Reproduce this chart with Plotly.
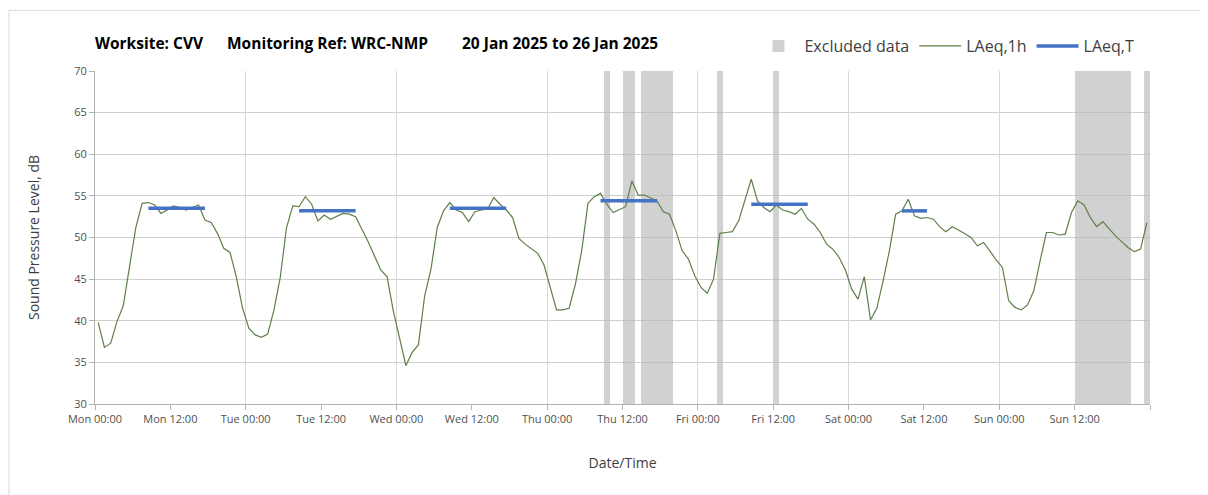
import plotly.graph_objects as go

# ---------------- data ----------------
day_names = ["Mon", "Tue", "Wed", "Thu", "Fri", "Sat", "Sun"]

# hourly LAeq,1h values (dB), one list per day, hours 00..23
laeq_mon = [39.8, 36.8, 37.3, 39.9, 41.8, 46.3, 51.2, 54.1, 54.2, 53.9, 52.9, 53.3,
            53.8, 53.6, 53.3, 53.6, 53.9, 52.1, 51.8, 50.5, 48.7, 48.2, 45.3, 41.5]
laeq_tue = [39.1, 38.3, 38.0, 38.4, 41.3, 45.2, 51.2, 53.8, 53.7, 54.9, 54.0, 52.0,
            52.7, 52.2, 52.6, 52.9, 52.8, 52.5, 51.0, 49.5, 47.8, 46.1, 45.3, 41.2]
laeq_wed = [37.9, 34.6, 36.2, 37.1, 43.0, 46.2, 51.2, 53.2, 54.2, 53.3, 53.0, 51.9,
            53.1, 53.3, 53.4, 54.8, 54.0, 53.3, 52.4, 49.9, 49.2, 48.7, 48.1, 46.7]
laeq_thu = [44.0, 41.3, 41.3, 41.5, 44.4, 48.4, 54.1, 54.9, 55.3, 54.0, 53.0, 53.4,
            53.7, 56.8, 55.1, 55.1, 54.7, 54.4, 53.1, 52.8, 50.8, 48.4, 47.4, 45.4]
laeq_fri = [44.0, 43.3, 45.0, 50.5, 50.6, 50.7, 52.0, 54.4, 57.0, 54.4, 53.6, 53.1,
            53.9, 53.3, 53.1, 52.8, 53.5, 52.2, 51.6, 50.6, 49.2, 48.6, 47.6, 46.1]
laeq_sat = [43.8, 42.6, 45.3, 40.1, 41.5, 44.8, 48.4, 52.8, 53.2, 54.6, 52.6, 52.3,
            52.4, 52.2, 51.3, 50.7, 51.3, 50.9, 50.5, 50.0, 49.0, 49.4, 48.4, 47.3]
laeq_sun = [46.4, 42.4, 41.6, 41.3, 41.9, 43.6, 47.2, 50.6, 50.6, 50.3, 50.4, 53.0,
            54.4, 53.9, 52.4, 51.3, 51.9, 51.0, 50.2, 49.5, 48.8, 48.3, 48.6, 51.8]

# LAeq,T over working periods: day index, first hour, last hour, value (dB)
period_day = [0, 1, 2, 3, 4, 5]
period_first_hour = [8, 8, 8, 8, 8, 8]
period_last_hour = [17, 17, 17, 17, 17, 12]
period_laeq = [53.5, 53.2, 53.5, 54.4, 54.0, 53.2]

# excluded data periods, hours since Mon 00:00
excl_start = [81, 84, 87, 99, 108, 156, 167]
excl_end = [82, 86, 92, 100, 109, 165, 168]

tick_hours = list(range(0, 169, 12))
tick_labels = [f"{day_names[h // 24]} {h % 24:02d}:00" if h < 168 else "" for h in tick_hours]

# ---------------- build ----------------
all_days = [laeq_mon, laeq_tue, laeq_wed, laeq_thu, laeq_fri, laeq_sat, laeq_sun]
hx, hy = [], []
for d, vals in enumerate(all_days):
    for h, v in enumerate(vals):
        hx.append(d * 24 + h + 0.5)
        hy.append(v)

tx, ty = [], []
for d, h0, h1, v in zip(period_day, period_first_hour, period_last_hour, period_laeq):
    tx += [d * 24 + h0 + 0.5, d * 24 + h1 + 0.5, None]
    ty += [v, v, None]

FONT = "Open Sans"
fig = go.Figure()

fig.add_trace(go.Bar(
    x=[(s + e) / 2 for s, e in zip(excl_start, excl_end)],
    y=[70 - 30] * len(excl_start),
    base=30,
    width=[e - s for s, e in zip(excl_start, excl_end)],
    marker=dict(color="rgba(185,185,185,0.65)", line=dict(width=0)),
    name="Excluded data",
    hoverinfo="skip",
))
fig.add_trace(go.Scatter(
    x=hx, y=hy, mode="lines", name="LAeq,1h",
    line=dict(color="#5e7f49", width=1.2),
    xaxis="x2",
))
fig.add_trace(go.Scatter(
    x=tx, y=ty, mode="lines", name="LAeq,T",
    line=dict(color="#4472C4", width=3.5),
    xaxis="x2",
))

axis_font = dict(family=FONT, size=11, color="#505050")
fig.update_layout(
    width=1200, height=487,
    margin=dict(l=87, r=58, t=63, b=91),
    paper_bgcolor="white", plot_bgcolor="white",
    font=dict(family=FONT, color="#404040"),
    showlegend=True,
    legend=dict(
        orientation="h", x=0.99, xanchor="right", y=1.075, yanchor="middle",
        font=dict(family=FONT, size=16, color="#404040"),
        itemwidth=42, traceorder="normal", bgcolor="rgba(0,0,0,0)",
    ),
    xaxis=dict(
        range=[0, 168], tickmode="array", tickvals=tick_hours, ticktext=tick_labels,
        showgrid=False, zeroline=False,
        showline=True, linecolor="#b3b3b3", linewidth=1,
        ticks="outside", ticklen=5, tickcolor="#b3b3b3",
        tickfont=axis_font,
        title=dict(text="Date/Time", font=dict(family=FONT, size=14, color="#404040"), standoff=32),
    ),
    xaxis2=dict(
        range=[0, 168], overlaying="x", matches="x", side="bottom",
        tickmode="linear", tick0=0, dtick=24,
        showgrid=True, gridcolor="#d9d9d9", gridwidth=1,
        showticklabels=False, ticks="", zeroline=False, showline=False,
    ),
    yaxis=dict(
        range=[30, 70], tickmode="linear", tick0=30, dtick=5,
        showgrid=True, gridcolor="#cfcfcf", gridwidth=1, zeroline=False,
        showline=True, linecolor="#b3b3b3", linewidth=1,
        ticks="outside", ticklen=5, tickcolor="#b3b3b3",
        tickfont=axis_font,
        title=dict(text="Sound Pressure Level, dB", font=dict(family=FONT, size=14, color="#404040"), standoff=31),
    ),
    bargap=0,
)

# title pieces
title_parts = [("Worksite: CVV", -0.002), ("Monitoring Ref: WRC-NMP", 0.123), ("20 Jan 2025 to 26 Jan 2025", 0.346)]
for txt, px in title_parts:
    fig.add_annotation(
        text=f"<b>{txt}</b>", xref="paper", yref="paper", x=px, y=1.084,
        xanchor="left", yanchor="middle", showarrow=False,
        font=dict(family=FONT, size=15.5, color="#000000"),
    )

# outer chart border
fig.add_shape(type="rect", xref="paper", yref="paper",
              x0=-0.0815, x1=1.2, y0=-0.5, y1=1.182,
              line=dict(color="#d9d9d9", width=1), fillcolor="rgba(0,0,0,0)", layer="below")

fig.write_html("out.html")
